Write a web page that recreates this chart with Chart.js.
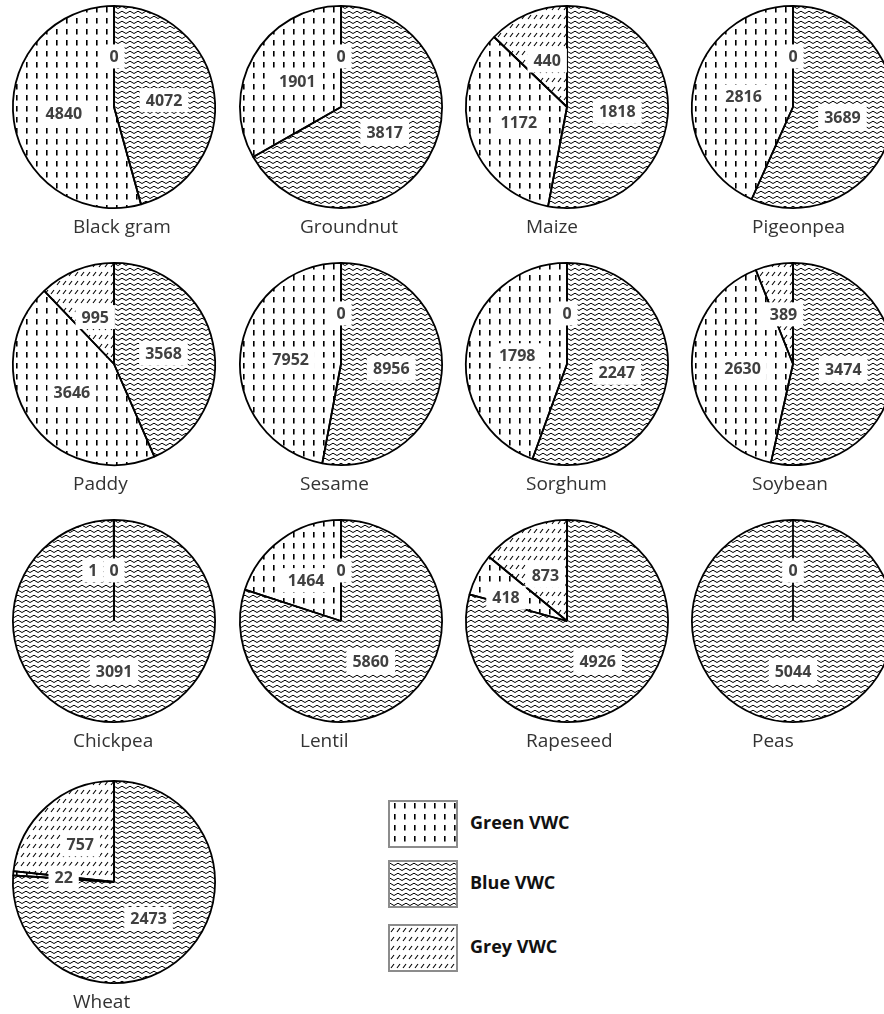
<!DOCTYPE html>
<html>
<head>
<meta charset="utf-8">
<script src="https://cdn.jsdelivr.net/npm/chart.js@4.4.1/dist/chart.umd.min.js"></script>
<style>
  body { margin: 0; width: 884px; height: 1014px; overflow: hidden; background: #fff; position: relative; font-family: "Open Sans", sans-serif; }
  .pie { position: absolute; }
  .name { position: absolute; font-size: 19px; line-height: 22px; color: #333; white-space: nowrap; }
  .swatch { position: absolute; box-sizing: border-box; border: 2px solid #8c8c8c; }
  .legtext { position: absolute; font-size: 18px; font-weight: bold; line-height: 22px; color: #111; white-space: nowrap; }
</style>
</head>
<body>
<script>
// crops, left to right then top to bottom
const crops = ['Black gram', 'Groundnut', 'Maize', 'Pigeonpea',
               'Paddy', 'Sesame', 'Sorghum', 'Soybean',
               'Chickpea', 'Lentil', 'Rapeseed', 'Peas',
               'Wheat'];
// slices are drawn clockwise from the top: blue, green, grey
const blueVWC  = [4072, 3817, 1818, 3689, 3568, 8956, 2247, 3474, 3091, 5860, 4926, 5044, 2473];
const greenVWC = [4840, 1901, 1172, 2816, 3646, 7952, 1798, 2630, 1, 1464, 418, 0, 22];
const greyVWC  = [0, 0, 440, 0, 995, 0, 0, 389, 0, 0, 873, 0, 757];
const seriesNames = ['Blue VWC', 'Green VWC', 'Grey VWC'];

// motifs used instead of colours
function makePattern(kind) {
  const c = document.createElement('canvas');
  let g;
  if (kind === 'blue') {
    c.width = 8; c.height = 5;
    g = c.getContext('2d');
    g.strokeStyle = '#000';
    g.lineWidth = 1;
    g.beginPath();
    g.moveTo(-4, 3.5); g.lineTo(0, 1.2); g.lineTo(4, 3.5); g.lineTo(8, 1.2); g.lineTo(12, 3.5);
    g.stroke();
  } else if (kind === 'green') {
    c.width = 10; c.height = 11;
    g = c.getContext('2d');
    g.fillStyle = '#000';
    g.fillRect(4, 1, 1.6, 5.5);
  } else {
    c.width = 6; c.height = 9;
    g = c.getContext('2d');
    g.strokeStyle = '#000';
    g.lineWidth = 1.1;
    g.beginPath();
    g.moveTo(1, 6); g.lineTo(4, 2);
    g.stroke();
  }
  return g.createPattern(c, 'repeat');
}

const patterns = { blue: makePattern('blue'), green: makePattern('green'), grey: makePattern('grey') };

// white boxed value labels at the middle of each slice
const sliceLabels = {
  id: 'sliceLabels',
  afterDatasetsDraw(chart) {
    const ctx = chart.ctx;
    const meta = chart.getDatasetMeta(0);
    const values = chart.data.datasets[0].data;
    ctx.save();
    ctx.font = 'bold 16px "Open Sans"';
    ctx.textAlign = 'center';
    ctx.textBaseline = 'middle';
    const boxes = [];
    for (let i = meta.data.length - 1; i >= 0; i--) {
      const arc = meta.data[i];
      const p = arc.tooltipPosition();
      const text = String(values[i]);
      const w = ctx.measureText(text).width + 12;
      const h = 24;
      let x = p.x;
      boxes.forEach(b => {
        if (b.text !== text && Math.abs(b.x - x) < (b.w + w) / 2 && Math.abs(b.y - p.y) < h) {
          const mid = (arc.startAngle + arc.endAngle) / 2;
          const dir = Math.cos(mid) < 0 ? -1 : 1;
          x = b.x + dir * (b.w + w) / 2;
        }
      });
      boxes.push({ x: x, y: p.y, w: w, text: text });
      ctx.fillStyle = '#fff';
      ctx.fillRect(x - w / 2, p.y - h / 2, w, h);
      ctx.fillStyle = '#404040';
      ctx.fillText(text, x, p.y + 1);
    }
    ctx.restore();
  }
};

const colCenters = [114, 341, 567, 793];
const rowCenters = [107, 364, 621, 882];
const size = 224;

crops.forEach((crop, i) => {
  const cx = colCenters[i % 4];
  const cy = rowCenters[Math.floor(i / 4)];
  const canvas = document.createElement('canvas');
  canvas.className = 'pie';
  canvas.width = size; canvas.height = size;
  canvas.style.left = (cx - size / 2) + 'px';
  canvas.style.top = (cy - size / 2) + 'px';
  document.body.appendChild(canvas);

  new Chart(canvas.getContext('2d'), {
    type: 'pie',
    data: {
      labels: seriesNames,
      datasets: [{
        data: [blueVWC[i], greenVWC[i], greyVWC[i]],
        backgroundColor: [patterns.blue, patterns.green, patterns.grey],
        borderColor: '#000',
        borderWidth: 1.8
      }]
    },
    options: {
      responsive: false,
      animation: false,
      layout: { padding: 10 },
      plugins: { legend: { display: false }, tooltip: { enabled: false } }
    },
    plugins: [sliceLabels]
  });

  const name = document.createElement('div');
  name.className = 'name';
  name.textContent = crop;
  name.style.left = (cx - 41) + 'px';
  name.style.top = (cy + 108) + 'px';
  document.body.appendChild(name);
});

// legend
const legendRows = [
  { name: 'Green VWC', pat: patterns.green, top: 800 },
  { name: 'Blue VWC', pat: patterns.blue, top: 860 },
  { name: 'Grey VWC', pat: patterns.grey, top: 924 }
];
legendRows.forEach(r => {
  const sw = document.createElement('canvas');
  sw.className = 'swatch';
  sw.width = 66; sw.height = 44;
  sw.style.left = '388px';
  sw.style.top = r.top + 'px';
  const g = sw.getContext('2d');
  g.fillStyle = '#fff';
  g.fillRect(0, 0, 66, 44);
  g.fillStyle = r.pat;
  g.fillRect(0, 0, 66, 44);
  document.body.appendChild(sw);

  const t = document.createElement('div');
  t.className = 'legtext';
  t.textContent = r.name;
  t.style.left = '470px';
  t.style.top = (r.top + 11) + 'px';
  document.body.appendChild(t);
});
</script>
</body>
</html>
